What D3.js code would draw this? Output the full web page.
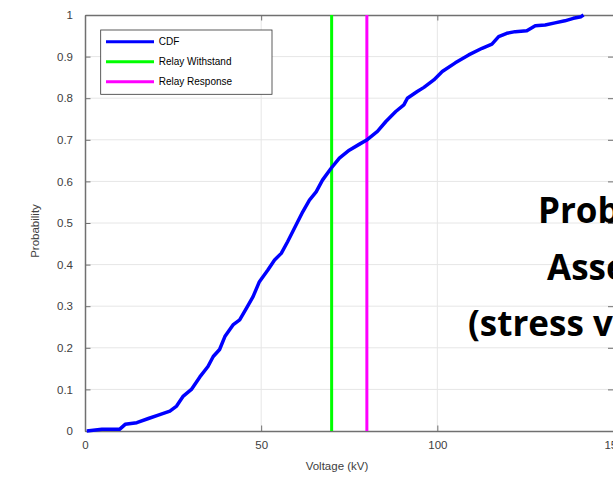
<!DOCTYPE html>
<html>
<head>
<meta charset="utf-8">
<script src="https://cdn.jsdelivr.net/npm/d3@7"></script>
<style>
html,body{margin:0;padding:0;background:#fff;overflow:hidden;}
svg{display:block;}
</style>
</head>
<body>
<svg id="chart" width="613" height="479"></svg>
<script>
// ---- data ----
const voltage = [0.5, 4.8, 9.8, 11.4, 14.7, 18, 20.8, 24.1, 26, 27.9, 30.2, 32.6, 34.9, 36.4, 38.2, 39.7, 42, 43.9, 45.8, 47.7, 49.5, 51.9, 53.8, 55.7, 57.5, 59.9, 61.8, 63.7, 65.6, 67.4, 69.8, 72.2, 75, 77.8, 80.2, 83, 85.4, 88.2, 90.5, 91.5, 94.3, 96.2, 99, 101.4, 105.1, 108.9, 112.7, 115.5, 117.4, 119.7, 122.1, 125.4, 127.8, 130.6, 133.4, 136.2, 138.6, 140.8, 141.5];
const probability = [0, 0.004, 0.004, 0.016, 0.02, 0.03, 0.038, 0.048, 0.06, 0.084, 0.1, 0.13, 0.155, 0.179, 0.196, 0.227, 0.255, 0.267, 0.295, 0.323, 0.359, 0.387, 0.411, 0.427, 0.455, 0.495, 0.527, 0.555, 0.575, 0.603, 0.631, 0.656, 0.675, 0.689, 0.701, 0.72, 0.744, 0.768, 0.784, 0.8, 0.816, 0.826, 0.844, 0.864, 0.885, 0.904, 0.92, 0.93, 0.948, 0.956, 0.96, 0.962, 0.974, 0.976, 0.981, 0.986, 0.992, 0.996, 1.0];
const relayWithstand = 70;
const relayResponse = 80;
const xTicks = [0, 50, 100, 150];
const yTicks = [0, 0.1, 0.2, 0.3, 0.4, 0.5, 0.6, 0.7, 0.8, 0.9, 1];
const legendLabels = ["CDF", "Relay Withstand", "Relay Response"];
const legendColors = ["#0000ff", "#00ff00", "#ff00ff"];
const overlayLines = ["Probabilistic", "Assessment", "(stress vs strength)"];

// ---- layout ----
const svg = d3.select("#chart");
const L = 85, R = 613.5, T = 15, B = 431;
const x = d3.scaleLinear().domain([0, 150]).range([L, R]);
const y = d3.scaleLinear().domain([0, 1]).range([B, T]);
const font = "'Liberation Sans', Arial, sans-serif";
const axisColor = "#707070";
const textColor = "#404040";

// grid
svg.append("g").selectAll("line.gx").data(xTicks.slice(1, -1)).join("line")
  .attr("x1", d => x(d)).attr("x2", d => x(d)).attr("y1", T).attr("y2", B)
  .attr("stroke", "#e6e6e6").attr("stroke-width", 1);
svg.append("g").selectAll("line.gy").data(yTicks.slice(1, -1)).join("line")
  .attr("x1", L).attr("x2", R).attr("y1", d => y(d)).attr("y2", d => y(d))
  .attr("stroke", "#e6e6e6").attr("stroke-width", 1);

// axes
function styleAxis(g) {
  g.select(".domain").attr("stroke", axisColor).attr("stroke-width", 1.5);
  g.selectAll(".tick line").attr("stroke", axisColor).attr("stroke-width", 1);
  g.selectAll(".tick text").attr("fill", textColor).attr("font-family", font).attr("font-size", 11.5);
}
const fmtY = d => d === 0 ? "0" : d === 1 ? "1" : d3.format(".1f")(d);
svg.append("g").attr("transform", `translate(0,${B})`)
  .call(d3.axisBottom(x).tickValues(xTicks).tickSizeInner(-5.5).tickSizeOuter(0).tickPadding(10))
  .call(styleAxis);
svg.append("g").attr("transform", `translate(${L},0)`)
  .call(d3.axisLeft(y).tickValues(yTicks).tickFormat(fmtY).tickSizeInner(-5.5).tickSizeOuter(0).tickPadding(12))
  .call(styleAxis);
svg.append("g").attr("transform", `translate(0,${T})`)
  .call(d3.axisTop(x).tickValues(xTicks).tickFormat("").tickSizeInner(-5.5).tickSizeOuter(0))
  .call(styleAxis);
svg.append("g").attr("transform", `translate(${R},0)`)
  .call(d3.axisRight(y).tickValues(yTicks).tickFormat("").tickSizeInner(-5.5).tickSizeOuter(0))
  .call(styleAxis);

// axis labels
svg.append("text").attr("x", 337).attr("y", 470).attr("text-anchor", "middle")
  .attr("font-family", font).attr("font-size", 11.5).attr("fill", textColor).text("Voltage (kV)");
svg.append("text").attr("transform", "translate(39,231) rotate(-90)").attr("text-anchor", "middle")
  .attr("font-family", font).attr("font-size", 11.5).attr("fill", textColor).text("Probability");

// relay lines
[relayWithstand, relayResponse].forEach((v, i) => {
  svg.append("line").attr("x1", x(v)).attr("x2", x(v)).attr("y1", T).attr("y2", B)
    .attr("stroke", legendColors[i + 1]).attr("stroke-width", 3);
});

// CDF
const pts = voltage.map((v, i) => [v, probability[i]]);
svg.append("path").datum(pts)
  .attr("d", d3.line().x(d => x(d[0])).y(d => y(d[1])))
  .attr("fill", "none").attr("stroke", legendColors[0]).attr("stroke-width", 3.5)
  .attr("stroke-linejoin", "round");

// legend
const lg = svg.append("g");
lg.append("rect").attr("x", 100.7).attr("y", 30).attr("width", 171.3).attr("height", 64.3)
  .attr("fill", "#fff").attr("stroke", "#333").attr("stroke-width", 0.8);
legendLabels.forEach((t, i) => {
  const yy = 41.7 + i * 20;
  lg.append("line").attr("x1", 106).attr("x2", 154).attr("y1", yy).attr("y2", yy)
    .attr("stroke", legendColors[i]).attr("stroke-width", 3);
  lg.append("text").attr("x", 158.7).attr("y", yy + 3.5)
    .attr("font-family", font).attr("font-size", 10).attr("fill", "#000").text(t);
});

// overlay title text
const ov = [[538, 223], [547, 280], [468, 336]];
overlayLines.forEach((t, i) => {
  svg.append("text").attr("x", ov[i][0]).attr("y", ov[i][1])
    .attr("font-family", "'Open Sans', sans-serif").attr("font-weight", "bold")
    .attr("font-size", 35).attr("fill", "#000").text(t);
});
</script>
</body>
</html>
